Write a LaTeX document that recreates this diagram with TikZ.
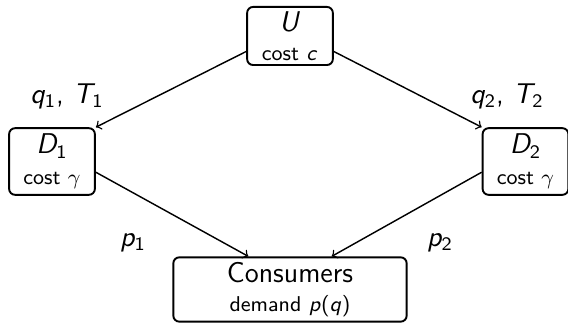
\documentclass[tikz,border=0pt]{standalone}
\renewcommand{\familydefault}{\sfdefault}
% sans math letters, as in slides
\DeclareSymbolFont{sfletters}{OT1}{cmss}{m}{sl}
\SetSymbolFont{operators}{normal}{OT1}{cmss}{m}{n}
\DeclareMathSymbol{U}{\mathalpha}{sfletters}{`U}
\DeclareMathSymbol{D}{\mathalpha}{sfletters}{`D}
\DeclareMathSymbol{T}{\mathalpha}{sfletters}{`T}
\DeclareMathSymbol{c}{\mathalpha}{sfletters}{`c}
\DeclareMathSymbol{p}{\mathalpha}{sfletters}{`p}
\DeclareMathSymbol{q}{\mathalpha}{sfletters}{`q}
\usetikzlibrary{positioning}

\begin{document}
\begin{tikzpicture}[
    x=0.42pt,
    y=-0.42pt,
    agent/.style={draw, rectangle, rounded corners=2.5pt, line width=0.8pt, align=center, inner sep=1pt, font=\large},
    arrow/.style={->, line width=0.6pt},
    flow/.style={font=\large},
]
\useasboundingbox (0,0) rectangle (568,323);

% Upstream
\node[agent, minimum width=36pt, minimum height=24.4pt] (up) at (290, 36) {$U$\\[-2pt]{\small cost $c$}};

% Distributors
\node[agent, minimum width=36pt, minimum height=28pt] (d1) at (52, 161.5) {$D_1$\\[-1pt]{\small cost $\gamma$}};
\node[agent, minimum width=36pt, minimum height=28pt] (d2) at (525.5, 161.5) {$D_2$\\[-1pt]{\small cost $\gamma$}};

% Consumers
\node[agent, minimum width=98pt, minimum height=27pt] (cons) at (290, 289.5) {Consumers\\[-2pt]{\small demand $p(q)$}};

% Labels
\node[flow] (qt1) at (67, 96) {$q_1$, $T_1$};
\node[flow] (qt2) at (507, 96) {$q_2$, $T_2$};
\node[flow] (p1) at (133, 243) {$p_1$};
\node[flow] (p2) at (440, 243) {$p_2$};

% Arrows
\draw[arrow] ([yshift=-6.5pt]up.west) -- (d1.north east);
\draw[arrow] ([yshift=-6.5pt]up.east) -- (d2.north west);
\draw[arrow] ([yshift=-4.5pt]d1.east) -- ([xshift=-17.5pt]cons.north);
\draw[arrow] ([yshift=-4.5pt]d2.west) -- ([xshift=17.5pt]cons.north);

\end{tikzpicture}
\end{document}
